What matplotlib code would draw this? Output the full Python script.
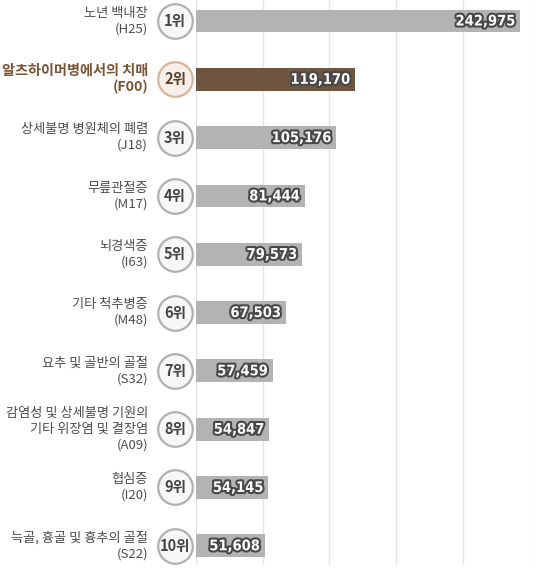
import matplotlib
matplotlib.use('Agg')
import matplotlib.pyplot as plt
import matplotlib.patheffects as pe
import matplotlib.transforms as mtransforms

plt.rcParams['font.family'] = ['Noto Sans CJK KR', 'DejaVu Sans']

names = ['노년 백내장', '알츠하이머병에서의 치매', '상세불명 병원체의 폐렴', '무릎관절증', '뇌경색증',
         '기타 척추병증', '요추 및 골반의 골절', '감염성 및 상세불명 기원의\n기타 위장염 및 결장염',
         '협심증', '늑골, 흉골 및 흉추의 골절']
codes = ['H25', 'F00', 'J18', 'M17', 'I63', 'M48', 'S32', 'A09', 'I20', 'S22']
values = [242975, 119170, 105176, 81444, 79573, 67503, 57459, 54847, 54145, 51608]
ranks = [f'{i + 1}위' for i in range(len(values))]
highlight = 1

gray = '#b3b3b3'
brown = '#6f5540'

fig = plt.figure(figsize=(5.39, 5.68), dpi=100)
ax = fig.add_axes([196 / 539, 3 / 568, (529.5 - 196) / 539, 565 / 568])

ys = list(range(len(values)))
colors = [brown if i == highlight else gray for i in ys]
ax.barh(ys, values, height=0.39, color=colors, zorder=2)

for gx in range(0, 250001, 50000):
    ax.axvline(gx, color='#e3e3e3', lw=1, zorder=1)

ax.set_xlim(0, 250000)
ax.set_ylim(9.33, -0.36)
ax.axis('off')

stroke = [pe.withStroke(linewidth=3, foreground='#474747')]
for y, v in zip(ys, values):
    ax.text(v - 3500, y, f'{v:,}', ha='right', va='center', color='white',
            family='DejaVu Sans', fontstretch='condensed', fontweight='bold', fontsize=10.5,
            path_effects=stroke, zorder=3)

trans = mtransforms.blended_transform_factory(ax.transAxes, ax.transData)
cx = (175 - 196) / (529.5 - 196)
lx = (148 - 196) / (529.5 - 196)
for y in ys:
    if y == highlight:
        fc, ec, tc = '#f8f0e8', '#d8b598', '#5a3f2c'
    else:
        fc, ec, tc = '#f7f7f7', '#b0b0b0', '#444444'
    ax.scatter([cx], [y], s=620, marker='o', facecolor=fc, edgecolor=ec,
               linewidth=1.6, transform=trans, clip_on=False, zorder=4)
    ax.text(cx, y, ranks[y], transform=trans, ha='center', va='center',
            fontsize=10.5, fontweight='bold', color=tc, zorder=5)

    label = f'{names[y]}\n({codes[y]})'
    if y == highlight:
        ax.text(lx, y, label, transform=trans, ha='right', va='center',
                fontsize=10.2, fontweight='bold', color='#7a5434', linespacing=1.2)
    else:
        ax.text(lx, y, label, transform=trans, ha='right', va='center',
                fontsize=9.5, color='#4d4d4d', linespacing=1.25)

fig.savefig('out.png', dpi=100)
